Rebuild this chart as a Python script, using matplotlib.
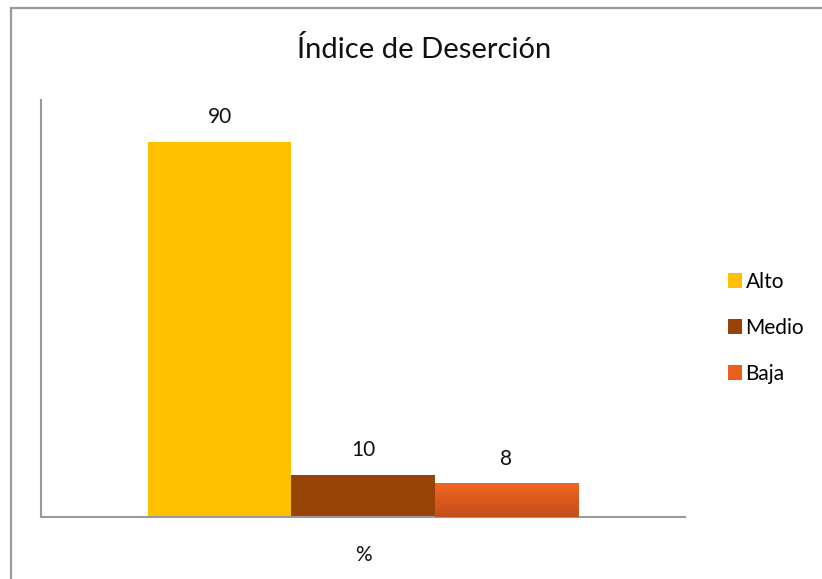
import numpy as np
import matplotlib.pyplot as plt
from matplotlib.colors import LinearSegmentedColormap
from matplotlib.lines import Line2D

# -----------------------------
# Data
# -----------------------------
categories = ["Alto", "Medio", "Baja"]
values = [90, 10, 8]
colors = ["#FFC000", "#984306", "#E8601E"]

plt.rcParams['font.family'] = ['Lato', 'DejaVu Sans']

fig = plt.figure(figsize=(8.22, 5.79), dpi=100)
ax = fig.add_axes([41 / 822, 62 / 579, 644 / 822, 417 / 579])

# outer chart frame (left and top edge visible)
fig.add_artist(Line2D([11 / 822, 11 / 822], [0, 571 / 579], transform=fig.transFigure,
                      color="#9a9a9a", lw=1.6))
fig.add_artist(Line2D([11 / 822, 1], [571 / 579, 571 / 579], transform=fig.transFigure,
                      color="#9a9a9a", lw=1.6))

x = np.arange(len(categories)) - 1
bars = ax.bar(x, values, width=1.0, color=colors, label=categories, zorder=2)

# gradient on the "Baja" bar
grad = LinearSegmentedColormap.from_list("baja", ["#C24F1A", "#F26522"])
b = bars[2]
bx, bw, bh = b.get_x(), b.get_width(), b.get_height()
ax.imshow(np.linspace(0, 1, 50).reshape(-1, 1), cmap=grad, origin="lower",
          extent=[bx, bx + bw, 0, bh], aspect="auto", zorder=3)

for rect, v in zip(bars, values):
    ax.text(rect.get_x() + rect.get_width() / 2, v + 3.6, str(v),
            ha="center", va="bottom", fontsize=15, color="#111111")

ax.set_xlim(-2.245, 2.245)
ax.set_ylim(0, 100)
ax.set_xticks([])
ax.set_yticks([])
for s in ["top", "right"]:
    ax.spines[s].set_visible(False)
for s in ["left", "bottom"]:
    ax.spines[s].set_color("#9a9a9a")
    ax.spines[s].set_linewidth(1.5)

ax.set_xlabel("%", fontsize=15, labelpad=20, color="#111111")
fig.text(424 / 822, 1 - 49 / 579, "Índice de Deserción", ha="center", va="center",
         fontsize=21, color="#111111")

ax.legend(loc="center left", bbox_to_anchor=(668 / 644, 0.454), frameon=False,
          fontsize=15, handlelength=0.7, handleheight=0.7, handletextpad=0.15,
          labelspacing=1.25)

fig.savefig("out.png", dpi=100)
